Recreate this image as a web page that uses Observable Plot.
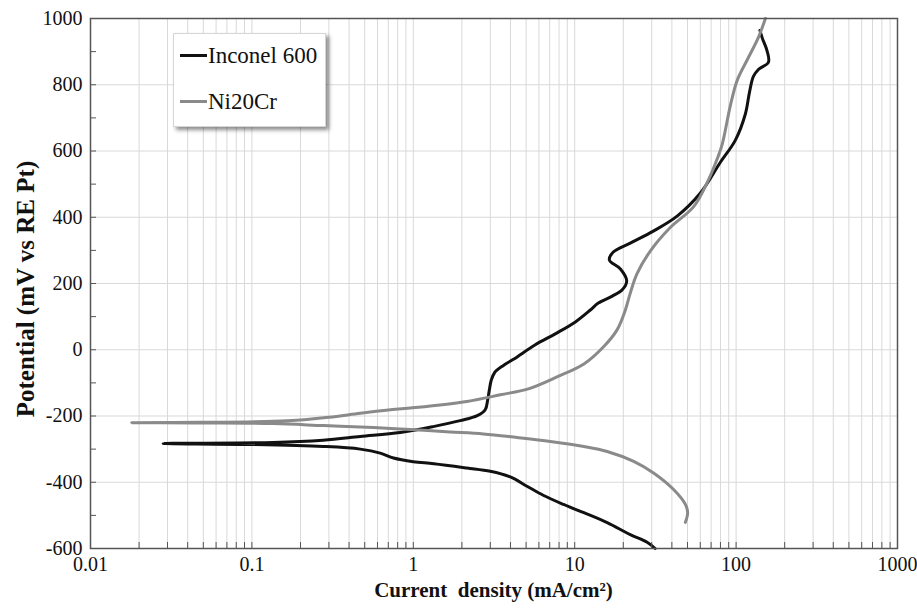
<!DOCTYPE html>
<html><head><meta charset="utf-8">
<script src="https://cdn.jsdelivr.net/npm/d3@7"></script>
<script src="https://cdn.jsdelivr.net/npm/@observablehq/plot@0.6"></script>
<style>
body{margin:0;background:#fff;}
#wrap{position:relative;width:917px;height:609px;font-family:"Liberation Serif",serif;color:#111;}
#legend{position:absolute;left:173px;top:33px;width:151px;height:92px;background:#fff;border:1px solid #d6d6d6;box-shadow:3px 3px 4px rgba(0,0,0,0.45);font-family:"Liberation Serif",serif;}
.li{position:absolute;left:6px;font-size:23px;line-height:23px;display:flex;align-items:center;white-space:nowrap;}
.sw{display:inline-block;width:27px;height:3px;margin-right:1px;}
#xt{position:absolute;left:90px;width:807px;top:580px;text-align:center;font-family:"Liberation Serif",serif;font-weight:bold;font-size:21px;line-height:21px;white-space:pre;}
#yt{position:absolute;left:25px;top:289px;width:420px;text-align:center;font-family:"Liberation Serif",serif;font-weight:bold;font-size:25px;line-height:25px;white-space:pre;transform:translate(-50%,-50%) rotate(-90deg);}
svg text{font-family:"Liberation Serif",serif !important;}
</style></head>
<body>
<div id="wrap">
  <div id="chart"></div>
  <div id="legend"></div>
  <div id="xt"></div>
  <div id="yt"></div>
</div>
<script>
// ---- data ----
const seriesNames = ["Inconel 600", "Ni20Cr"];
const seriesColors = ["#111111", "#8a8a8a"];

const inconelCurrent = [31.5, 28.1, 22.1, 15.9, 11.4, 8.53, 6.42, 5.06, 3.99, 3.00, 2.15, 1.34, 1.0, 0.754, 0.624, 0.469, 0.276, 0.0975, 0.0282, 0.135, 0.276, 0.469, 0.83, 1.33, 1.95, 2.49, 2.79, 2.89, 2.96, 3.04, 3.2, 3.6, 4.2, 5.70, 7.58, 10.1, 12.5, 14.0, 17.1, 19.7, 21.0, 19.2, 16.4, 17.35, 22.1, 30.7, 43.3, 60.1, 79.9, 99, 114, 121, 128, 137.5, 158.6, 155.2, 145.5, 140.5];
const inconelPotential = [-600, -581, -558, -522, -492, -467, -440, -412, -384, -367, -357, -344, -338, -327, -312, -300, -292, -286, -283, -280, -273, -262, -250, -232, -214, -199, -181, -151, -121, -92, -68, -48, -28, 15, 48, 84, 120, 141, 162, 181, 208, 244, 271, 295, 322, 358, 404, 473, 566, 633, 711, 777, 825, 846, 868, 904, 940, 964];

const niCrCurrent = [48.5, 50.1, 48.5, 41.0, 30.8, 23.2, 15.9, 11.4, 7.06, 4.39, 2.72, 1.69, 0.957, 0.567, 0.278, 0.136, 0.0477, 0.018, 0.0477, 0.136, 0.2, 0.3, 0.469, 0.7, 0.957, 2.15, 3.46, 5.16, 7.77, 11.4, 15.1, 18.3, 20.6, 22.1, 24.3, 29.4, 39.1, 54.6, 67.3, 76.6, 82, 92.2, 101.7, 118.6, 137.5, 151.9];
const niCrPotential = [-521, -492, -467, -422, -372, -337, -307, -292, -277, -265, -254, -248, -241, -235, -229, -223, -221, -220, -219, -216, -212, -204, -192, -182, -176, -156, -136, -118, -82, -43, 9, 60, 120, 171, 229, 298, 369, 432, 512, 578, 620, 738, 814, 880, 943, 1000];

const xTicks = [0.01, 0.1, 1, 10, 100, 1000];
const xTickLabels = ["0.01", "0.1", "1", "10", "100", "1000"];
const yTicks = [-600, -400, -200, 0, 200, 400, 600, 800, 1000];
const yTickLabels = ["-600", "-400", "-200", "0", "200", "400", "600", "800", "1000"];
const yMinorTicks = [-600, -500, -400, -300, -200, -100, 0, 100, 200, 300, 400, 500, 600, 700, 800, 900, 1000];
const xTitle = "Current  density (mA/cm\u00B2)";
const yTitle = "Potential (mV vs RE Pt)";

// ---- build ----
const inconel = inconelCurrent.map((c, i) => ({c, e: inconelPotential[i]}));
const niCr = niCrCurrent.map((c, i) => ({c, e: niCrPotential[i]}));
const xMinor = [];
xTicks.slice(0, -1).forEach(d => { for (let k = 1; k <= 9; k++) xMinor.push(+(k * d).toPrecision(3)); });
xMinor.push(1000);
const xLab = new Map(xTicks.map((d, i) => [d, xTickLabels[i]]));
const yLab = new Map(yTicks.map((d, i) => [d, yTickLabels[i]]));
const ff = "Liberation Serif";

const chart = Plot.plot({
  width: 917, height: 609,
  marginLeft: 90, marginRight: 20, marginTop: 18, marginBottom: 61,
  style: {fontFamily: ff, fontSize: "19px", color: "#111", background: "#fff", overflow: "visible"},
  x: {type: "log", domain: [0.01, 1000], label: null},
  y: {domain: [-600, 1000], label: null},
  marks: [
    Plot.gridX(xMinor, {stroke: "#d9d9d9", strokeOpacity: 1}),
    Plot.gridY(yTicks, {stroke: "#d9d9d9", strokeOpacity: 1}),
    Plot.line(inconel, {x: "c", y: "e", stroke: seriesColors[0], strokeWidth: 3, curve: "catmull-rom"}),
    Plot.line(niCr, {x: "c", y: "e", stroke: seriesColors[1], strokeWidth: 3, curve: "catmull-rom"}),
    Plot.axisX({anchor: "bottom", ticks: xMinor, tickSize: -6, tickFormat: () => "", label: null, stroke: "#555"}),
    Plot.axisX({anchor: "bottom", ticks: xTicks, tickSize: 0, tickPadding: 8, tickFormat: d => xLab.get(d), label: null, fill: "#111", fontFamily: ff, fontSize: 20}),
    Plot.axisY({anchor: "left", ticks: yMinorTicks, tickSize: -6, tickFormat: () => "", label: null, stroke: "#555"}),
    Plot.axisY({anchor: "left", ticks: yTicks, tickSize: 0, tickPadding: 8, tickFormat: d => yLab.get(d), label: null, fill: "#111", fontFamily: ff, fontSize: 20}),
    Plot.frame({stroke: "#555", strokeWidth: 1.5})
  ]
});
document.getElementById("chart").appendChild(chart);

document.getElementById("xt").textContent = xTitle;
document.getElementById("yt").textContent = yTitle;
const lg = document.getElementById("legend");
const rowTops = [10, 56];
seriesNames.forEach((n, i) => {
  const r = document.createElement("div");
  r.className = "li";
  r.style.top = rowTops[i] + "px";
  const s = document.createElement("span");
  s.className = "sw";
  s.style.background = seriesColors[i];
  r.appendChild(s);
  r.appendChild(document.createTextNode(n));
  lg.appendChild(r);
});
</script>
</body></html>
